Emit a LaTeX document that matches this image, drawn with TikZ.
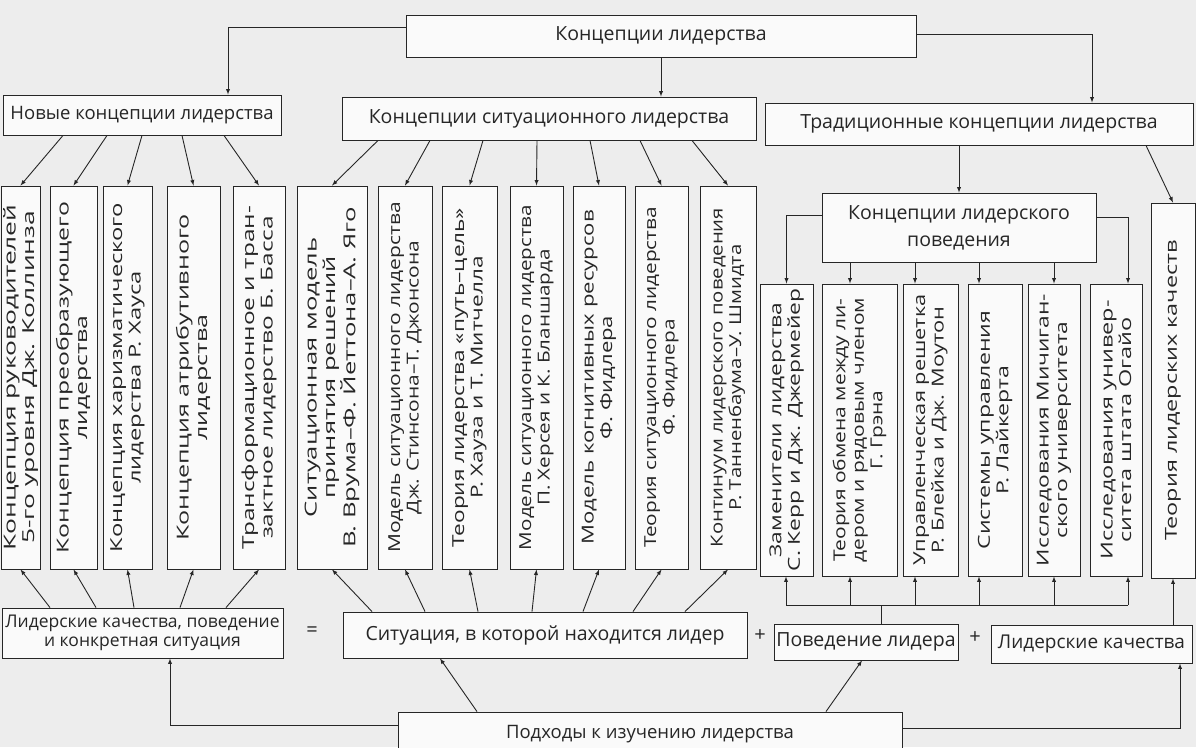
\documentclass[tikz,border=0pt]{standalone}
\usepackage{fontspec}
\setmainfont{Open Sans}
\tikzset{
  box/.style={draw=black!85, fill=black!2, line width=0.9pt, inner sep=0pt, align=center, text=black!85, font=\fontsize{19.5}{21}\selectfont},
  vtext/.style={rotate=90, align=center, inner sep=0pt, text=black!85, font=\fontsize{16.5}{18.5}\selectfont},
  sign/.style={inner sep=0pt, text=black!85, font=\fontsize{20}{20}\selectfont},
  arr/.style={-latex, line width=0.9pt, draw=black!85},
  ln/.style={line width=0.9pt, draw=black!85}
}
\begin{document}
\begin{tikzpicture}[x=1pt, y=-1pt]
  \useasboundingbox (0,0) rectangle (1196,747);
  \clip (0,0) rectangle (1196,747);
  \fill[black!7] (0,0) rectangle (1196,747);
  \node[box, minimum width=510, minimum height=42] (top) at (661,36) {Концепции лидерства};
  \node[box, minimum width=278, minimum height=40, font=\fontsize{18.5}{20}\selectfont] (new) at (142,115) {Новые концепции лидерства};
  \node[box, minimum width=414, minimum height=43] (sc) at (549,118.5) {Концепции ситуационного лидерства};
  \node[box, minimum width=428, minimum height=42] (trad) at (979,124) {Традиционные концепции лидерства};
  \node[box, minimum width=274, minimum height=69, font=\fontsize{19.5}{27}\selectfont] (bc) at (959,227.5) {Концепции лидерского\\поведения};
  \foreach \n/\l/\r/\k/\txt in {
      t1/1/40/1.6/{Концепция руководителей\\5-го уровня Дж. Коллинза},
      t2/50/97/1.5/{Концепция преобразующего\\лидерства},
      t3/103/152/1.44/{Концепция харизматического\\лидерства Р. Хауса},
      t4/167/220/1.52/{Концепция атрибутивного\\лидерства},
      t5/233/285/1.48/{Трансформационное и тран-\\зактное лидерство Б. Басса},
      t6/297/367/1.55/{Ситуационная модель\\принятия решений\\В. Врума–Ф. Йеттона–А. Яго},
      t7/378/432/1.27/{Модель ситуационного лидерства\\Дж. Стинсона–Т. Джонсона},
      t8/442/497/1.37/{Теория лидерства «путь–цель»\\Р. Хауза и Т. Митчелла},
      t9/510/563/1.25/{Модель ситуационного лидерства\\П. Херсея и К. Бланшарда},
      t10/573/625/1.34/{Модель когнитивных ресурсов\\Ф. Фидлера},
      t11/635/688/1.26/{Теория ситуационного лидерства\\Ф. Фидлера},
      t12/700/756/1.23/{Континуум лидерского поведения\\Р. Танненбаума–У. Шмидта}} {
    \node[box, minimum width={\r-\l}, minimum height=383] (\n) at ({(\l+\r)/2},377.5) {};
    \node[vtext, xscale=\k] (l\n) at (\n) {\txt};
  }
  \foreach \n/\l/\r/\k/\txt in {
      b1/760/813/1.38/{Заменители лидерства\\С. Керр и Дж. Джермейер},
      b2/822/897/1.27/{Теория обмена между ли-\\дером и рядовым членом\\Г. Грэна},
      b3/903/958/1.32/{Управленческая решетка\\Р. Блейка и Дж. Моутон},
      b4/968/1022/1.4/{Системы управления\\Р. Лайкерта},
      b5/1028/1080/1.38/{Исследования Мичиган-\\ского университета},
      b6/1090/1142/1.42/{Исследования универ-\\ситета штата Огайо}} {
    \node[box, minimum width={\r-\l}, minimum height=292] (\n) at ({(\l+\r)/2},430) {};
    \node[vtext, xscale=\k] (l\n) at (\n) {\txt};
  }
  \node[box, minimum width=44, minimum height=375] (th) at (1173,390.5) {};
  \node[vtext, xscale=1.42] (lth) at (th) {Теория лидерских качеств};
  \node[box, minimum width=281, minimum height=50, font=\fontsize{17.5}{19.5}\selectfont] (lq) at (142.5,633) {Лидерские качества, поведение\\и конкретная ситуация};
  \node[sign] (eq) at (312,632) {=};
  \node[box, minimum width=404, minimum height=46] (sit) at (545,635) {Ситуация, в которой находится лидер};
  \node[sign] (pl1) at (760,636) {+};
  \node[box, minimum width=184, minimum height=36] (beh) at (866,642) {Поведение лидера};
  \node[sign] (pl2) at (975,638) {+};
  \node[box, minimum width=201, minimum height=38, font=\fontsize{19}{21}\selectfont] (lk) at (1091.5,644) {Лидерские качества};
  \node[box, minimum width=504, minimum height=44, font=\fontsize{18.5}{20}\selectfont] (appr) at (650,734) {Подходы к изучению лидерства};
  \draw[arr] (top.west |- 0,27) -| (new.north -| 228,0);
  \draw[arr] (top.south) -- (top.south |- sc.north);
  \draw[arr] (top.east |- 0,34) -| (trad.north -| 1092,0);
  \draw[arr] (trad.south -| bc.north) -- (bc.north);
  \draw[arr] (trad.south -| 1146,0) -- (th.north);
  \foreach \s/\t in {63/t1,107/t2,142/t3,182/t4,224/t5}
    \draw[arr] (new.south -| \s,0) -- (\t.north);
  \foreach \s/\t in {378/t6,430/t7,483/t8,537/t9,590/t10,640/t11,692/t12}
    \draw[arr] (sc.south -| \s,0) -- (\t.north);
  \foreach \s/\t in {50/t1,96/t2,134/t3,180/t4,226/t5}
    \draw[arr] (lq.north -| \s,0) -- (\t.south);
  \foreach \s/\t in {372/t6,425/t7,478/t8,532/t9,583/t10,633/t11,685/t12}
    \draw[arr] (sit.north -| \s,0) -- (\t.south);
  \draw[arr] (bc.west |- 0,215) -| (b1.north);
  \draw[arr] (bc.east |- 0,217) -| (b6.north -| 1128,0);
  \foreach \x/\b in {850/b2,915/b3,979/b4,1054/b5}
    \draw[arr] (bc.south -| \x,0) -- (\b.north -| \x,0);
  \coordinate (hubl) at (786,605);
  \coordinate (hubr) at (1128,605);
  \draw[ln] (hubl) -- (hubr);
  \draw[ln] (beh.north -| 881,0) -- (hubl -| 881,0);
  \foreach \x/\b in {786/b1,850/b2,915/b3,979/b4,1054/b5,1128/b6}
    \draw[arr] (hubl -| \x,0) -- (\b.south -| \x,0);
  \draw[arr] (lk.north -| th.south) -- (th.south);
  \draw[arr] (appr.west |- 0,725) -| (lq.south -| 170,0);
  \draw[arr] (appr.north -| 477,0) -- (sit.south -| 440,0);
  \draw[arr] (appr.north -| 826,0) -- (beh.south -| 862,0);
  \draw[arr] (appr.east |- 0,728) -| (lk.south -| 1180,0);
\end{tikzpicture}
\end{document}
